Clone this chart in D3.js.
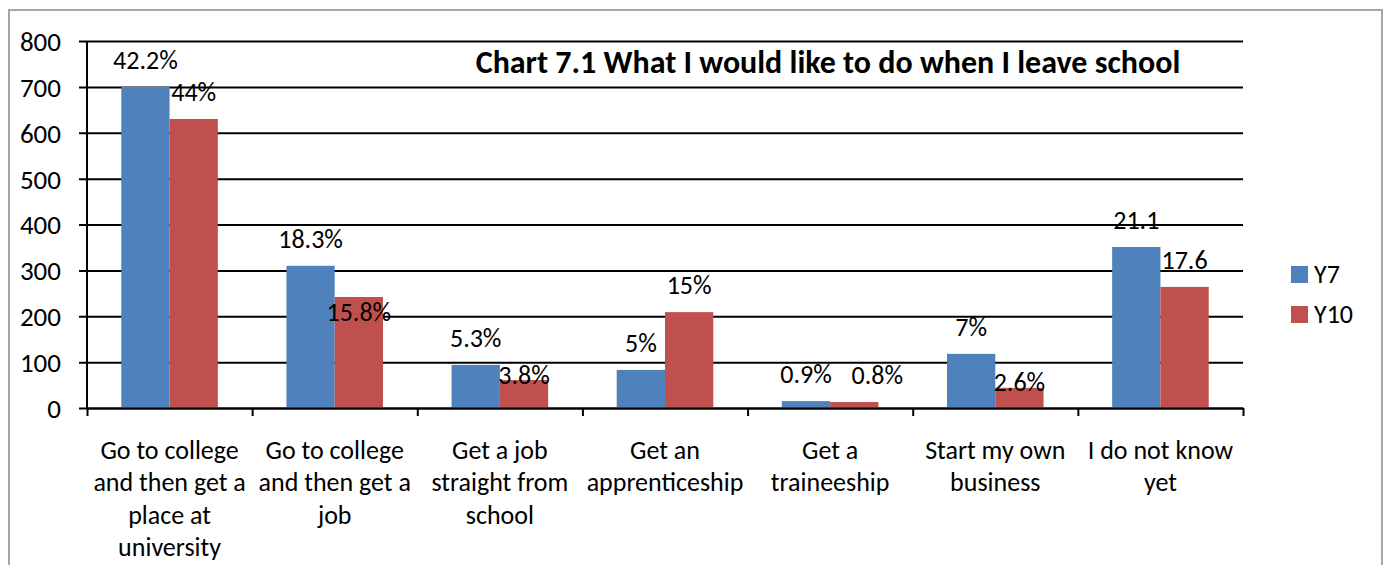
<!DOCTYPE html>
<html><head><meta charset="utf-8">
<script src="https://cdn.jsdelivr.net/npm/d3@7"></script>
<style>html,body{margin:0;padding:0;background:#fff;}svg{display:block;font-family:Carlito,Lato,sans-serif;}</style>
</head><body>
<svg id="c" width="1387" height="565"></svg>
<script>
const categories = [
  ["Go to college","and then get a","place at","university"],
  ["Go to college","and then get a","job"],
  ["Get a job","straight from","school"],
  ["Get an","apprenticeship"],
  ["Get a","traineeship"],
  ["Start my own","business"],
  ["I do not know","yet"]
];
const seriesNames = ["Y7","Y10"];
const y7 = [700, 310, 94, 83, 15, 118, 351];
const y10 = [630, 242, 61, 209, 13, 44, 264];
const y7Labels = ["42.2%","18.3%","5.3%","5%","0.9%","7%","21.1"];
const y10Labels = ["44%","15.8%","3.8%","15%","0.8%","2.6%","17.6"];
const yTicks = [0,100,200,300,400,500,600,700,800];
const title = "Chart 7.1 What I would like to do when I leave school";
const colors = ["#4F81BD","#C0504D"];

const FS = 26;
const svg = d3.select("#c");
const m = {left:87, right:1243, top:41, bottom:408};
// outer border
svg.append("rect").attr("x",9).attr("y",10).attr("width",1373).attr("height",600)
  .attr("fill","none").attr("stroke","#a6a6a6").attr("stroke-width",2);

const x0 = d3.scaleBand().domain(d3.range(categories.length)).range([m.left,m.right]).paddingInner(0).paddingOuter(0);
const x1 = d3.scaleBand().domain([0,1]).range([0,x0.bandwidth()]).paddingInner(0).paddingOuter(0.71);
const y = d3.scaleLinear().domain([0,800]).range([m.bottom,m.top]);

// gridlines + y ticks
const yAxis = d3.axisLeft(y).tickValues(yTicks).tickSize(-(m.right-m.left)).tickSizeOuter(0).tickPadding(26).tickFormat(d3.format("d"));
const gy = svg.append("g").attr("transform",`translate(${m.left},0)`).call(yAxis);
gy.select(".domain").remove();
gy.selectAll(".tick line").attr("x1",-8).attr("stroke","#000").attr("stroke-width",2);
gy.selectAll(".tick text").attr("font-size",27).attr("fill","#000").attr("font-family","Carlito,Lato,sans-serif").attr("dy","0.35em");

// bars
const series = [y7,y10];
series.forEach((vals,si)=>{
  svg.append("g").selectAll("rect").data(vals).join("rect")
    .attr("x",(d,i)=>x0(i)+x1(si))
    .attr("y",d=>y(d))
    .attr("width",x1.bandwidth())
    .attr("height",d=>y(0)-y(d))
    .attr("fill",colors[si]);
});

// axes lines
svg.append("line").attr("x1",m.left).attr("x2",m.left).attr("y1",m.top).attr("y2",m.bottom).attr("stroke","#000").attr("stroke-width",2);
const xAxis = d3.axisBottom(d3.scaleLinear().domain([0,categories.length]).range([m.left,m.right]))
  .tickValues(d3.range(categories.length+1)).tickSize(8).tickSizeOuter(0).tickFormat("");
const gx = svg.append("g").attr("transform",`translate(0,${m.bottom})`).call(xAxis);
gx.select(".domain").attr("stroke","#000").attr("stroke-width",2);
gx.selectAll(".tick line").attr("stroke","#000").attr("stroke-width",2);

// category labels
const cl = svg.append("g").attr("font-size",FS).attr("fill","#000").attr("text-anchor","middle");
categories.forEach((lines,i)=>{
  const t = cl.append("text").attr("x",x0(i)+x0.bandwidth()/2).attr("y",450);
  lines.forEach((ln,j)=>t.append("tspan").attr("x",x0(i)+x0.bandwidth()/2).attr("dy",j===0?"0.35em":32.3).text(ln));
});

// data labels (label placement nudges, styling only)
const y10NudgeY = [0,42,22,0,0,21,0];
const y10NudgeX = [0,0,0,0,23,0,0];
const lg = svg.append("g").attr("font-size",FS).attr("fill","#000").attr("text-anchor","middle");
[y7Labels,y10Labels].forEach((labs,si)=>{
  labs.forEach((lab,i)=>{
    const v = series[si][i];
    const ny = si===1 ? y10NudgeY[i] : 0;
    const nx = si===1 ? y10NudgeX[i] : 0;
    lg.append("text").attr("x",x0(i)+x1(si)+x1.bandwidth()/2+nx)
      .attr("y",y(v)-27+ny).attr("dy","0.35em").text(lab);
  });
});

// title
svg.append("text").attr("x",828).attr("y",62).attr("dy","0.35em").attr("text-anchor","middle")
  .attr("font-size",32).attr("font-weight","bold").text(title);

// legend
const leg = svg.append("g");
seriesNames.forEach((n,i)=>{
  const yy = 274 + i*40;
  leg.append("rect").attr("x",1291).attr("y",yy-8).attr("width",17).attr("height",17).attr("fill",colors[i]);
  leg.append("text").attr("x",1314).attr("y",yy).attr("dy","0.35em").attr("font-size",FS).text(n);
});
</script>
</body></html>
